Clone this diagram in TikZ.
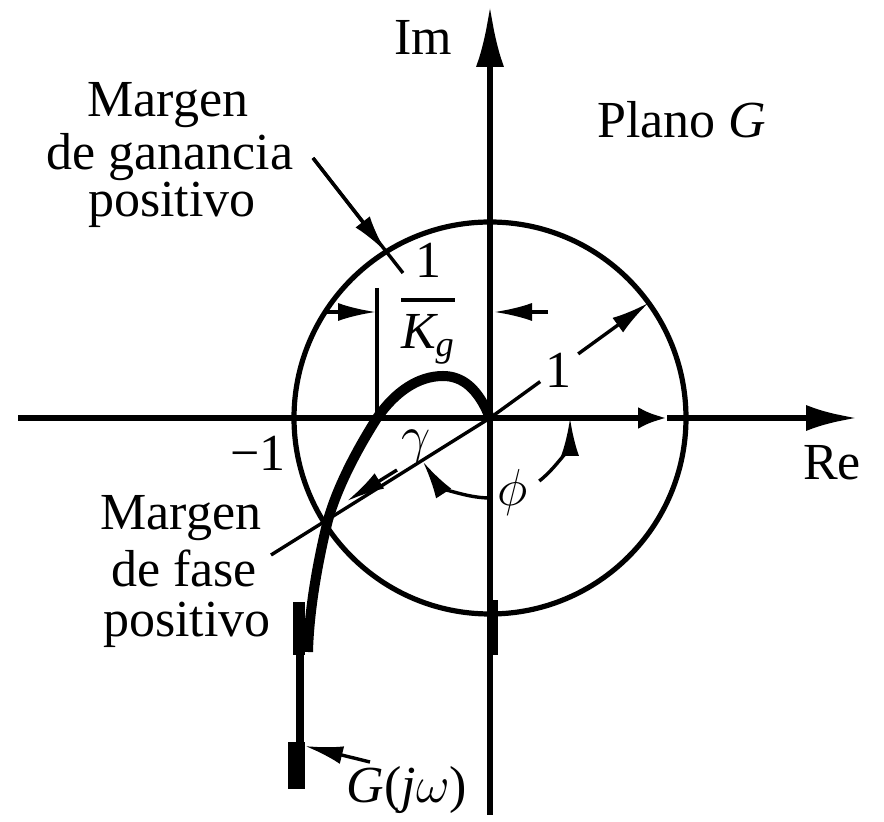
\documentclass[tikz,border=0pt]{standalone}
\usepackage{fix-cm}
\usepackage{amsmath}
\usepackage{fontspec}
\setmainfont{Liberation Serif}
\usetikzlibrary{arrows.meta}
\begin{document}
\begin{tikzpicture}[x=0.5pt,y=-0.5pt,
  axis/.style={line width=3.3pt},
  thinl/.style={line width=1.7pt},
  circ/.style={line width=2.6pt},
  gcurve/.style={line width=5pt},
  tipa/.style={-{Latex[length=19pt,width=9pt]}},
  lbl/.style={font=\fontsize{26}{30}\selectfont, inner sep=0pt, anchor=base}]
\useasboundingbox (0,0) rectangle (884,822);
% coordinates
\coordinate (O) at (490,418);
\coordinate (reL) at (18,418);
\coordinate (reM) at (667,418);
\coordinate (reR) at (858,418);
\coordinate (imB) at (490,815);
\coordinate (imT) at (490,5);
% circle
\draw[circ] (O) circle[radius=196];
% axes
\draw[axis,-{Latex[length=14.5pt,width=11pt]}] (reL) -- (reM);
\draw[axis,-{Latex[length=26pt,width=13pt]}] (reM) -- (reR);
\draw[axis,-{Latex[length=31pt,width=14pt]}] (imB) -- (imT);
\fill (487,600) rectangle (498,655);
% radius 1
\coordinate (r1a) at (540.2,381.6);
\coordinate (r1b) at (578.2,353.9);
\coordinate (r1c) at (648.6,302.8);
\draw[thinl] (O) -- (r1a);
\draw[thinl,tipa] (r1b) -- (r1c);
\node[lbl] (one) at (558,388) {1};
% phase line
\coordinate (ph) at (271,555);
\draw[thinl] (O) -- (ph);
% G curve
\draw[gcurve] (O) .. controls (478,388) and (462,376) .. (443,376)
  .. controls (418,376) and (395,392) .. (377,418)
  .. controls (358,448) and (338,485) .. (328,520)
  .. controls (318,560) and (309,610) .. (308,652);
\coordinate (gb1) at (300,652);
\coordinate (gb2) at (300,745);
\fill (293,602) rectangle (305,655);
\draw[line width=3.8pt] (gb1) -- (gb2);
\fill (288,742) rectangle (305,789);
% 1/Kg dimension
\coordinate (kgT) at (377,288);
\coordinate (kgB) at (377,418);
\draw[thinl] (kgT) -- (kgB);
\coordinate (kgA) at (325,312);
\coordinate (kgAt) at (376,312);
\draw[thinl,tipa] (kgA) -- (kgAt);
\coordinate (kgC) at (548,312);
\coordinate (kgCt) at (494,312);
\draw[thinl,tipa] (kgC) -- (kgCt);
\node[font=\fontsize{26}{30}\selectfont, inner sep=0pt, anchor=base] (kg) at (428,313)
  {$\genfrac{}{}{1.8pt}{0}{\text{1}}{\textit{K}_{\textit{g}}}$};
% gain margin pointer
\coordinate (gmA) at (313,158);
\coordinate (gmB) at (403,273);
\coordinate (gmC) at (386,252);
\draw[thinl] (gmA) -- (gmB);
\draw[thinl,tipa] (gmA) -- (gmC);
% gamma arrow
\coordinate (gaA) at (397,470);
\coordinate (gaB) at (347,501);
\draw[thinl,tipa] (gaA) -- (gaB);
\node[font=\fontsize{26}{30}\selectfont, inner sep=0pt] (gam) at (416,446) {$\gamma$};
% phi arcs
\coordinate (phiA) at (539.3,481.0);
\draw[thinl,tipa] (phiA) arc[start angle=52,end angle=0,radius=80];
\coordinate (phiB) at (490,498);
\draw[thinl,tipa] (phiB) arc[start angle=90,end angle=147,radius=80];
\node[font=\fontsize{26}{30}\selectfont, inner sep=0pt] (phi) at (513,493) {$\phi$};
% G(jw) pointer
\coordinate (gjA) at (370,762);
\coordinate (gjB) at (305,746);
\draw[thinl,tipa] (gjA) -- (gjB);
\node[lbl] (gjw) at (407,803) {\textit{G}(\textit{j}$\omega$)};
% labels
\node[lbl] (im) at (423,55) {Im};
\node[lbl] (re) at (832,480) {Re};
\node[lbl] (plano) at (682,138) {Plano \textit{G}};
\node[lbl] (m1) at (258,471) {−1};
\node[lbl] (g1) at (168,117) {Margen};
\node[lbl] (g2) at (170,170) {de ganancia};
\node[lbl] (g3) at (172,217) {positivo};
\node[lbl] (f1) at (181,530) {Margen};
\node[lbl] (f2) at (184,587) {de fase};
\node[lbl] (f3) at (187,637) {positivo};
\end{tikzpicture}
\end{document}
